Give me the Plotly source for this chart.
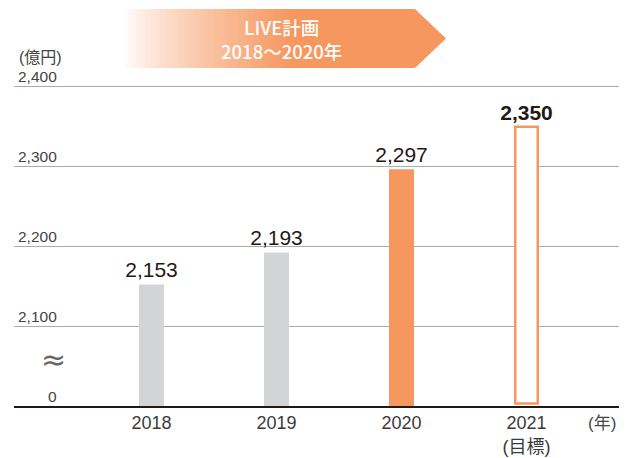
import plotly.graph_objects as go

# ---- data ----
years = ["2018", "2019", "2020", "2021"]
year_labels = ["2018", "2019", "2020", "2021<br>(目標)"]
actual_years = ["2018", "2019", "2020"]
actual_values = [2153, 2193, 2297]
target_year = ["2021"]
target_values = [2350]
y_tick_values = [2100, 2200, 2300, 2400]
y_tick_labels = ["2,100", "2,200", "2,300", "2,400"]
break_label = "0"
unit_y = "(億円)"
unit_x = "(年)"
banner_lines = ["LIVE計画", "2018～2020年"]

# ---- layout constants (pixels, in window coordinates) ----
OFF = 8  # default body margin of the page
W, H = 627 - OFF, 458 - OFF
PX_L, PX_R = 14, 619
PX_BOTTOM, PX_TOP = 406, 80
PX_PER_UNIT = 0.8
BASE_VAL = 2001
TOP_VAL = BASE_VAL + (PX_BOTTOM - PX_TOP) / PX_PER_UNIT

ORANGE = "#F6975F"
GRAY_BAR = "#D3D4D6"
FONT = "Liberation Sans, Arial, Noto Sans CJK JP, sans-serif"
CJK = "Noto Sans CJK JP, sans-serif"

xpos = {y: i for i, y in enumerate(years)}

def px(x):
    return (x - OFF) / W

def py(y):
    return 1 - (y - OFF) / H

fig = go.Figure()

fig.add_trace(go.Bar(
    x=[xpos[y] for y in actual_years], y=[v - BASE_VAL for v in actual_values], base=BASE_VAL,
    width=0.2,
    marker=dict(color=[GRAY_BAR, GRAY_BAR, ORANGE], line=dict(width=0)),
    text=[f"{v:,}" for v in actual_values], textposition="outside", constraintext="none",
    textfont=dict(size=21, color="#231815", family=FONT),
    cliponaxis=False, hoverinfo="skip", showlegend=False,
))
fig.add_trace(go.Bar(
    x=[xpos[y] for y in target_year], y=[v - BASE_VAL - 3 for v in target_values], base=BASE_VAL + 3,
    width=0.18,
    marker=dict(color="white", line=dict(width=2.5, color=ORANGE)),
    text=[f"<b>{v:,}</b>" for v in target_values], textposition="outside", constraintext="none",
    textfont=dict(size=21, color="#231815", family=FONT),
    cliponaxis=False, hoverinfo="skip", showlegend=False,
))

x0 = -(151.5 - PX_L) / 125
x1 = 3 + (PX_R - 526.5) / 125

fig.update_layout(
    width=W, height=H, margin=dict(l=0, r=0, t=0, b=0),
    paper_bgcolor="white", plot_bgcolor="white",
    barmode="overlay", font=dict(family=FONT),
    xaxis=dict(
        domain=[px(PX_L), px(PX_R)], range=[x0, x1],
        tickvals=list(range(len(years))), ticktext=year_labels,
        tickfont=dict(size=18, color="#3a3a3a"), ticks="", showgrid=False,
        showline=True, linecolor="#231815", linewidth=1.5, zeroline=False, fixedrange=True,
    ),
    yaxis=dict(
        domain=[py(PX_BOTTOM), py(PX_TOP)], range=[BASE_VAL, TOP_VAL],
        tickvals=y_tick_values, showticklabels=False, showgrid=True,
        gridcolor="#ABABAB", gridwidth=1, zeroline=False, fixedrange=True,
    ),
)

# y tick labels above gridlines (right aligned)
for v, t in zip(y_tick_values + [BASE_VAL], y_tick_labels + [break_label]):
    fig.add_annotation(x=px(59), xref="paper", y=v, yref="y", yshift=10,
                       text=t, showarrow=False, xanchor="right", yanchor="middle",
                       font=dict(size=15.5, color="#444"))

fig.add_annotation(x=px(53), xref="paper", y=py(359), yref="paper", text="≈",
                   showarrow=False, font=dict(size=30, color="#666", family="DejaVu Sans"),
                   xanchor="center", yanchor="middle")
fig.add_annotation(x=px(17), xref="paper", y=py(57), yref="paper", text=unit_y,
                   showarrow=False, font=dict(size=16, color="#444"),
                   xanchor="left", yanchor="middle")
fig.add_annotation(x=px(602), xref="paper", y=py(423), yref="paper", text=unit_x,
                   showarrow=False, font=dict(size=17, color="#444"),
                   xanchor="center", yanchor="middle")

# banner: gradient + arrow
def hexrgb(h):
    h = h.lstrip("#")
    return tuple(int(h[i:i + 2], 16) for i in (0, 2, 4))

oc = hexrgb(ORANGE)
G0, G1 = 124, 292
BT, BB = 9, 68
n = 56
step = (G1 - G0) / n
for i in range(n):
    t = (i + 0.5) / n
    t = t ** 0.8
    c = tuple(round(255 + (oc[k] - 255) * t) for k in range(3))
    fig.add_shape(type="rect", xref="paper", yref="paper",
                  x0=px(G0 + i * step), x1=px(G0 + (i + 1) * step + 0.6),
                  y0=py(BB), y1=py(BT), line=dict(width=0),
                  fillcolor=f"rgb{c}", layer="below")
path = (f"M {px(G1)},{py(BT)} L {px(415)},{py(BT)} L {px(446)},{py((BT + BB) / 2)} "
        f"L {px(415)},{py(BB)} L {px(G1)},{py(BB)} Z")
fig.add_shape(type="path", xref="paper", yref="paper", path=path,
              fillcolor=ORANGE, line=dict(width=0), layer="below")
fig.add_annotation(x=px(281), xref="paper", y=py(39), yref="paper",
                   text="<br>".join(banner_lines),
                   showarrow=False, xanchor="center", yanchor="middle", align="center",
                   font=dict(size=18.5, color="white", family=CJK, weight=500))

fig.write_html("out.html")
